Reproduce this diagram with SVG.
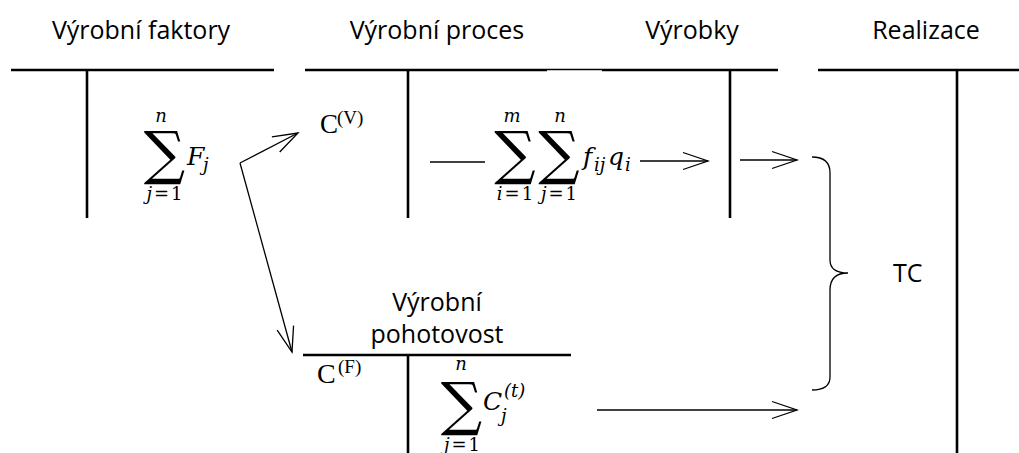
<svg xmlns="http://www.w3.org/2000/svg" width="1019" height="453" viewBox="0 0 1019 453">
<defs>
<style>
.frame{stroke:#000;stroke-width:2.6;fill:none}
.thin{stroke:#000;stroke-width:1.3;fill:none}
.title{font-family:"Open Sans","Liberation Sans",sans-serif;font-size:25px;fill:#000;text-anchor:middle}
.lbl{font-family:"Open Sans","Liberation Sans",sans-serif;font-size:25px;fill:#000}
.rm{font-family:"Liberation Serif","Times New Roman",serif;fill:#000}
.mi{font-family:"DejaVu Serif","Liberation Serif",serif;font-style:italic;fill:#000;font-size:25px}
.ms{font-family:"DejaVu Serif","Liberation Serif",serif;font-style:italic;fill:#000;font-size:18px}
.sc{font-family:"DejaVu Serif","Liberation Serif",serif;fill:#000;font-size:18px;text-anchor:middle}
.sc .v{font-style:italic}
.sig{font-family:"DejaVu Serif","Liberation Serif",serif;fill:#000;font-size:58px;text-anchor:middle}
</style>
<marker id="open" markerUnits="userSpaceOnUse" markerWidth="40" markerHeight="30" refX="0" refY="0" viewBox="-30 -15 40 30" orient="auto" overflow="visible">
<path d="M-25,-8.5 L0,0 L-25,8.5" fill="none" stroke="#000" stroke-width="1.3"/>
</marker>
</defs>
<rect width="1019" height="453" fill="#fff"/>

<g id="col-faktory">
<text class="title" x="141" y="39">Výrobní faktory</text>
<line class="frame" x1="11" y1="70" x2="274" y2="70"/>
<line class="frame" x1="87" y1="70" x2="87" y2="218"/>
<text class="sc" x="161" y="122"><tspan class="v">n</tspan></text>
<text class="sig" x="164.5" y="173">∑</text>
<text class="sc" x="164.5" y="200"><tspan class="v">j</tspan><tspan dx="2">=</tspan><tspan dx="2">1</tspan></text>
<text class="mi" x="187" y="165">F</text>
<text class="ms" x="203" y="171">j</text>
</g>

<g id="col-proces">
<text class="title" x="437" y="39">Výrobní proces</text>
<line class="frame" x1="305" y1="70" x2="547" y2="70"/>
<line class="thin" x1="547" y1="69.5" x2="602" y2="69.5" stroke="#444"/>
<line class="frame" x1="408" y1="70" x2="408" y2="218"/>
<text class="rm" x="320" y="133" font-size="27">C</text>
<text class="rm" x="337" y="124" font-size="19">(V)</text>
<text class="sc" x="512" y="122"><tspan class="v">m</tspan></text>
<text class="sig" x="515" y="173">∑</text>
<text class="sc" x="515" y="200"><tspan class="v">i</tspan><tspan dx="2">=</tspan><tspan dx="2">1</tspan></text>
<text class="sc" x="560" y="122"><tspan class="v">n</tspan></text>
<text class="sig" x="559" y="173">∑</text>
<text class="sc" x="559" y="200"><tspan class="v">j</tspan><tspan dx="2">=</tspan><tspan dx="2">1</tspan></text>
<text class="mi" x="583" y="165">f</text>
<text class="ms" x="594" y="171">ij</text>
<text class="mi" x="608" y="165">q</text>
<text class="ms" x="625" y="171">i</text>
</g>

<g id="col-vyrobky">
<text class="title" x="692" y="39">Výrobky</text>
<line class="frame" x1="602" y1="70" x2="778" y2="70"/>
<line class="frame" x1="730" y1="70" x2="730" y2="218"/>
</g>

<g id="col-realizace">
<text class="title" x="926" y="39">Realizace</text>
<line class="frame" x1="818" y1="70" x2="1019" y2="70"/>
<line class="frame" x1="957" y1="70" x2="957" y2="453"/>
</g>

<g id="pohotovost">
<text class="title" x="437" y="311">Výrobní</text>
<text class="title" x="437" y="343">pohotovost</text>
<line class="frame" x1="303" y1="355" x2="571" y2="355"/>
<line class="frame" x1="408" y1="355" x2="408" y2="453"/>
<text class="rm" x="317" y="383" font-size="28">C</text>
<text class="rm" x="338" y="373" font-size="19">(F)</text>
<text class="sc" x="461" y="370"><tspan class="v">n</tspan></text>
<text class="sig" x="461.5" y="424">∑</text>
<text class="sc" x="462" y="451"><tspan class="v">j</tspan><tspan dx="2">=</tspan><tspan dx="2">1</tspan></text>
<text class="mi" x="483" y="410">C</text>
<text class="ms" x="501" y="422">j</text>
<text class="ms" x="504" y="397" font-size="19">(t)</text>
</g>

<g id="brace">
<path class="thin" stroke-width="1.5" d="M812,157 C824,157 830,162 830,173 L830,260 C830,268 836,273 848,273 C836,273 830,278 830,290 L830,377 C830,386 824,390 812,390"/>
</g>

<g id="tc">
<text class="lbl" x="893" y="282">TC</text>
</g>

<g id="connectors">
<line class="thin" x1="240" y1="163" x2="298" y2="133" marker-end="url(#open)"/>
<line class="thin" x1="240" y1="163" x2="292" y2="352" marker-end="url(#open)"/>
<line class="thin" x1="430" y1="162" x2="485" y2="162"/>
<line class="thin" x1="640" y1="161" x2="708" y2="161" marker-end="url(#open)"/>
<line class="thin" x1="740" y1="160" x2="797" y2="160" marker-end="url(#open)"/>
<line class="thin" x1="597" y1="410" x2="797" y2="410" marker-end="url(#open)"/>
</g>
</svg>
